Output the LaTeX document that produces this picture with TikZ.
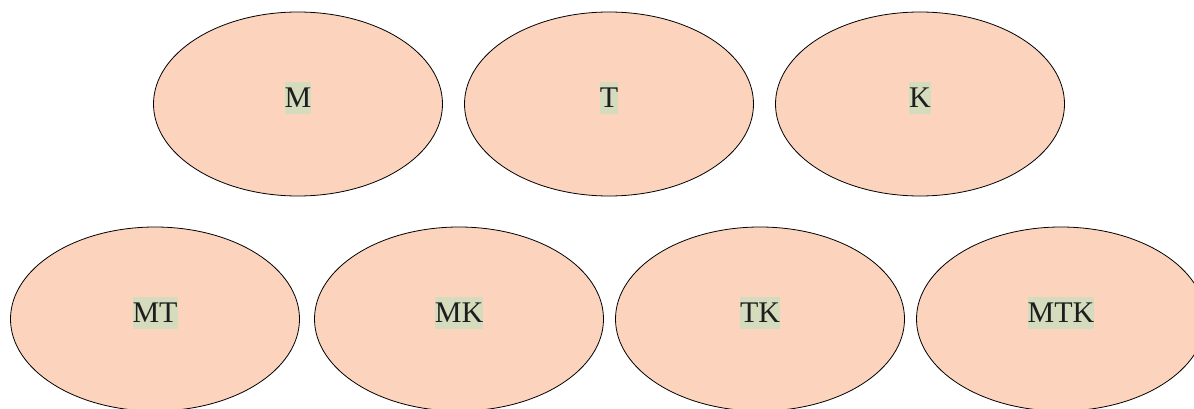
\documentclass[tikz,border=0pt]{standalone}
\usepackage{fontspec}
\setmainfont{Liberation Serif}
\usetikzlibrary{shapes.geometric}
\definecolor{peach}{HTML}{FCD4BE}
\definecolor{hilite}{HTML}{D5DBBD}
\definecolor{ink}{HTML}{1E1E1E}
\tikzset{
  setbox/.style={ellipse, draw=black, line width=0.8pt, fill=peach,
    minimum width=289pt, minimum height=184pt, inner sep=0pt},
  lab/.style={fill=hilite, text=ink, inner sep=0pt, text height=26pt, text depth=6.5pt,
    font=\fontsize{30}{36}\selectfont}
}
\begin{document}
\begin{tikzpicture}[x=1pt,y=-1pt]
\useasboundingbox (0,0) rectangle (1194,409);
\clip (0,0) rectangle (1194,409);
\node[setbox] (m) at (298,104) {};
\node[setbox] (t) at (609,104) {};
\node[setbox] (k) at (920,104) {};
\node[setbox] (mt) at (155,319) {};
\node[setbox] (mk) at (459,319) {};
\node[setbox] (tk) at (760,319) {};
\node[setbox] (mtk) at (1061,319) {};
\node[lab] (lm) at ([yshift=6pt]m.center) {M};
\node[lab] (lt) at ([yshift=6pt]t.center) {T};
\node[lab] (lk) at ([yshift=6pt]k.center) {K};
\node[lab] (lmt) at ([yshift=6pt]mt.center) {MT};
\node[lab] (lmk) at ([yshift=6pt]mk.center) {MK};
\node[lab] (ltk) at ([yshift=6pt]tk.center) {TK};
\node[lab] (lmtk) at ([yshift=6pt]mtk.center) {MTK};
\end{tikzpicture}
\end{document}
